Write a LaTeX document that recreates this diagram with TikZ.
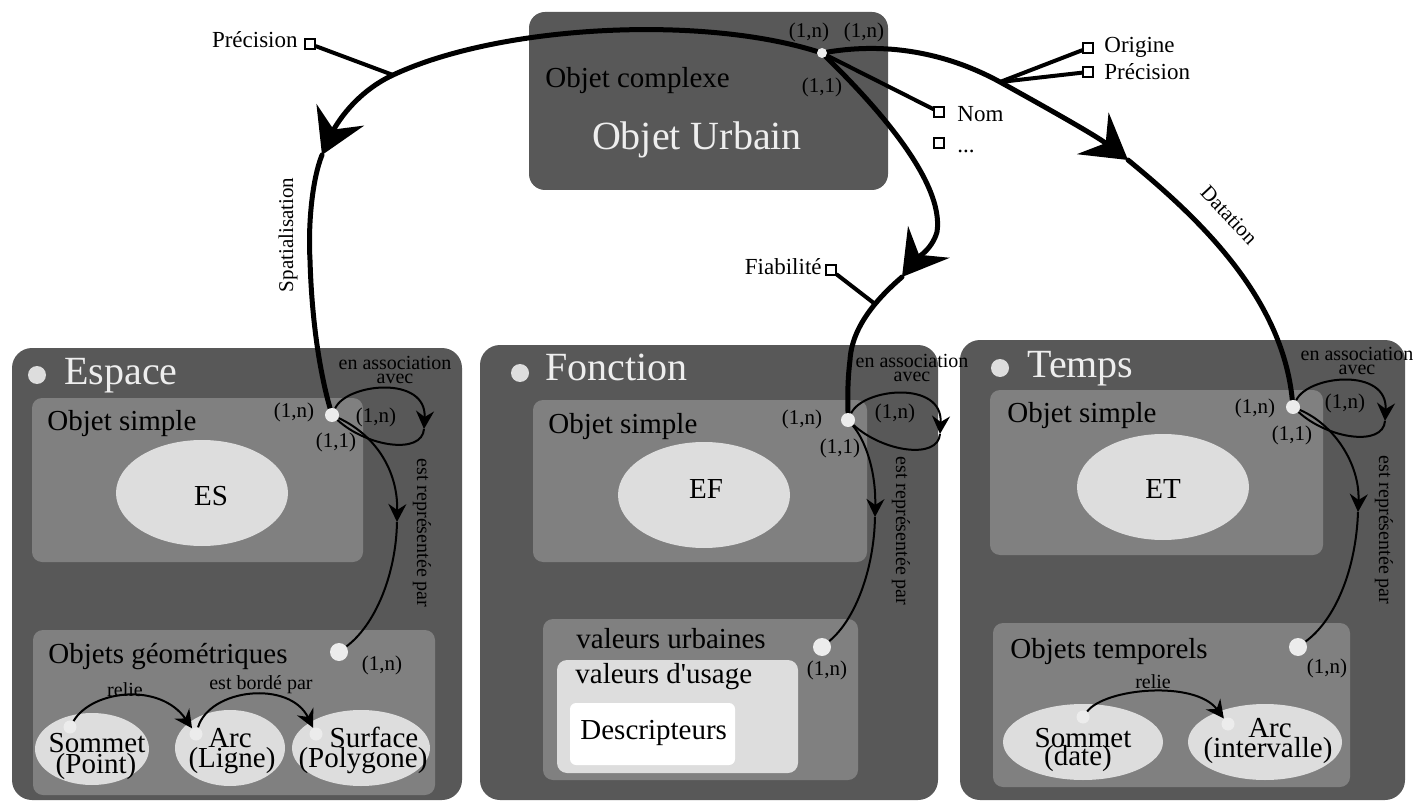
\documentclass[tikz,border=0pt]{standalone}
\usepackage{fontspec}
\setmainfont{Liberation Serif}
\usetikzlibrary{arrows.meta,shapes.geometric,calc}
\pgfdeclarelayer{front}
\pgfsetlayers{main,front}

\definecolor{panelgray}{RGB}{88,88,88}
\definecolor{boxgray}{RGB}{128,128,128}
\definecolor{pale}{RGB}{221,221,221}
\definecolor{titlewhite}{RGB}{238,238,238}
\definecolor{dotwhite}{RGB}{236,236,236}

\newcommand\ftitle{\fontsize{20}{22}\selectfont}
\newcommand\flabel{\fontsize{14.5}{17}\selectfont}
\newcommand\fattr{\fontsize{11.5}{13}\selectfont}
\newcommand\fcard{\fontsize{10.5}{12}\selectfont}
\newcommand\frole{\fontsize{10}{7}\selectfont}

\begin{document}
\begin{tikzpicture}[x=0.5pt,y=-0.5pt,
  panel/.style={rectangle,rounded corners=10pt,fill=panelgray,inner sep=0pt},
  inbox/.style={rectangle,rounded corners=5pt,fill=boxgray,inner sep=0pt},
  entity/.style={ellipse,fill=pale,inner sep=0pt},
  lbl/.style={inner sep=0pt,font=\flabel},
  ttl/.style={inner sep=0pt,font=\ftitle,text=titlewhite},
  card/.style={inner sep=0pt,font=\fcard},
  attrtxt/.style={inner sep=0pt,font=\fattr},
  role/.style={inner sep=0pt,font=\frole,align=center},
  bullet/.style={circle,fill=pale,minimum size=9pt,inner sep=0pt},
  cdot/.style={circle,fill=dotwhite,minimum size=7pt,inner sep=0pt},
  attrbox/.style={rectangle,draw=black,line width=1pt,fill=white,minimum size=5pt,inner sep=0pt},
  bigline/.style={line width=2.5pt,line cap=round},
  bigtip/.style={-{Stealth[length=22pt,width=26pt,inset=8pt]}},
  attrline/.style={line width=2pt,line cap=round},
  relline/.style={line width=1pt},
  reltip/.style={-{Stealth[length=9pt,width=9pt,inset=3pt]}},
]
\fill[white] (0,0) rectangle (1419,802);
\useasboundingbox (0,0) rectangle (1419,802);

% ---------- complex object ----------
\node[panel,rounded corners=8pt,minimum width=179.5pt,minimum height=89pt] (urbain) at (708.5,101) {};
\node[lbl,anchor=base west] (complexe) at (545,88) {Objet complexe};
\node[ttl,anchor=base] (urbname) at (697,150) {Objet Urbain};

% ---------- the three facets ----------
\node[panel,minimum width=225pt,minimum height=226pt] (espace) at (237,574) {};
\node[panel,minimum width=229pt,minimum height=227.5pt] (fonction) at (709,572.5) {};
\node[panel,minimum width=222.5pt,minimum height=230pt] (temps) at (1182.5,570) {};

\node[bullet] (eball) at (37,375) {};
\node[ttl,anchor=base west] (esptitle) at (64,385) {Espace};
\node[bullet] (fball) at (520,373) {};
\node[ttl,anchor=base west] (fontitle) at (545,380) {Fonction};
\node[bullet] (tball) at (1000,368) {};
\node[ttl,anchor=base west] (temtitle) at (1027,377) {Temps};

% simple objects
\node[inbox,minimum width=165.5pt,minimum height=82pt] (esimple) at (197.5,480) {};
\node[inbox,minimum width=167pt,minimum height=81pt] (fsimple) at (700,481) {};
\node[inbox,minimum width=166.5pt,minimum height=82.5pt] (tsimple) at (1156.5,472.5) {};
\node[lbl,anchor=base west] (esimpletxt) at (47,430) {Objet simple};
\node[lbl,anchor=base west] (fsimpletxt) at (548,433) {Objet simple};
\node[lbl,anchor=base west] (tsimpletxt) at (1007,422) {Objet simple};

\node[entity,minimum width=86pt,minimum height=53pt] (es) at (202,493) {};
\node[entity,minimum width=86pt,minimum height=53pt] (ef) at (704,495) {};
\node[entity,minimum width=86pt,minimum height=53pt] (et) at (1163,487) {};
\node[lbl,anchor=base] (estxt) at (211,505) {ES};
\node[lbl,anchor=base] (eftxt) at (706,498) {EF};
\node[lbl,anchor=base] (ettxt) at (1163,498) {ET};

% geometric objects
\node[inbox,minimum width=201pt,minimum height=82.5pt] (egeo) at (234,712.5) {};
\node[lbl,anchor=base west] (egeotxt) at (48,663) {Objets géométriques};
\node[entity,minimum width=57pt,minimum height=36pt] (sommet) at (92,749) {};
\node[entity,minimum width=55pt,minimum height=38pt] (arc) at (230,748) {};
\node[entity,minimum width=69pt,minimum height=38pt] (surface) at (361,748) {};
\node[lbl,anchor=base] (sommet1) at (97,752) {Sommet};
\node[lbl,anchor=base] (sommet2) at (96,773) {(Point)};
\node[lbl,anchor=base] (arc1) at (230,747) {Arc};
\node[lbl,anchor=base] (arc2) at (232,767) {(Ligne)};
\node[lbl,anchor=base] (surface1) at (374,747) {Surface};
\node[lbl,anchor=base] (surface2) at (363,767) {(Polygone)};

% urban values
\node[inbox,minimum width=157.5pt,minimum height=80.5pt] (furb) at (700.5,699.5) {};
\node[inbox,fill=pale,minimum width=120.5pt,minimum height=56.5pt] (fusage) at (677.5,716.5) {};
\node[inbox,fill=white,rounded corners=3pt,minimum width=82.5pt,minimum height=31pt] (fdesc) at (652.5,734) {};
\node[lbl,anchor=base west] (furbtxt) at (576,648) {valeurs urbaines};
\node[lbl,anchor=base west] (fusagetxt) at (575,683) {valeurs d\textquotesingle usage};
\node[lbl,anchor=base west] (fdesctxt) at (580,739) {Descripteurs};

% temporal objects
\node[inbox,minimum width=178.5pt,minimum height=82pt] (ttemp) at (1171.5,705) {};
\node[lbl,anchor=base west] (ttemptxt) at (1010,658) {Objets temporels};
\node[entity,minimum width=80pt,minimum height=38pt] (tsommet) at (1083,742) {};
\node[entity,minimum width=77pt,minimum height=38pt] (tarc) at (1265,742) {};
\node[lbl,anchor=base] (tsommet1) at (1083,747) {Sommet};
\node[lbl,anchor=base] (tsommet2) at (1078,765) {(date)};
\node[lbl,anchor=base] (tarc1) at (1270,737) {Arc};
\node[lbl,anchor=base] (tarc2) at (1268,757) {(intervalle)};

% ---------- connection points ----------
\begin{pgfonlayer}{front}
  \node[cdot,minimum size=5pt] (ud) at (822,53) {};
  \node[cdot] (esd) at (332,415) {};
  \node[cdot] (fsd) at (848,420) {};
  \node[cdot] (tsd) at (1293,407) {};
  \node[cdot,minimum size=9pt] (egd) at (339,652) {};
  \node[cdot,minimum size=9pt] (fgd) at (822,647) {};
  \node[cdot,minimum size=9pt] (tgd) at (1298,647) {};
  \node[cdot,minimum size=6.5pt] (sommetd) at (70,727) {};
  \node[cdot,minimum size=6.5pt] (arcd) at (196,734) {};
  \node[cdot,minimum size=6.5pt] (surfd) at (316,734) {};
  \node[cdot,minimum size=6.5pt] (tsommetd) at (1083,717) {};
  \node[cdot,minimum size=6.5pt] (tarcd) at (1228,724) {};
\end{pgfonlayer}

\coordinate (sbp) at (393,75);
\coordinate (stip) at (322,155);
\coordinate (dbp) at (1000,82);
\coordinate (dtip) at (1128,160);
\coordinate (ftip) at (902,277);
\coordinate (fbp) at (875,304);

% ---------- attributes ----------
\node[attrbox] (precs) at (310,44) {};
\node[attrtxt,anchor=base east] (precstxt) at (298,48) {Précision};
\node[attrbox] (origd) at (1088,48) {};
\node[attrtxt,anchor=base west] (origdtxt) at (1104,53) {Origine};
\node[attrbox] (precd) at (1088,72) {};
\node[attrtxt,anchor=base west] (precdtxt) at (1104,80) {Précision};
\node[attrbox] (nom) at (939,112) {};
\node[attrtxt,anchor=base west] (nomtxt) at (957,122) {Nom};
\node[attrbox] (etc) at (939,143) {};
\node[attrtxt,anchor=base west] (etctxt) at (957,153) {...};
\node[attrbox] (fiab) at (831,270) {};
\node[attrtxt,anchor=base east] (fiabtxt) at (822,275) {Fiabilité};

\draw[attrline] (precs) -- (sbp);
\draw[attrline] (origd) -- (dbp);
\draw[attrline] (precd) -- (dbp);
\draw[attrline] (ud) -- (nom);
\draw[attrline] (fiab) -- (fbp);

% ---------- main links ----------
% Spatialisation
\draw[bigline,bigtip] (ud) .. controls (700,15) and (500,25) .. (sbp)
  .. controls (350,95) and (332,133) .. (stip);
\draw[bigline] (stip) .. controls (312,180) and (308,225) .. (310,260)
  .. controls (312,330) and (322,380) .. (esd);
% Datation
\draw[bigline,bigtip] (ud) .. controls (900,40) and (960,60) .. (dbp)
  .. controls (1045,107) and (1095,135) .. (dtip);
\draw[bigline] (dtip) .. controls (1195,215) and (1282,295) .. (tsd);
% function link
\draw[bigline,bigtip] (ud) .. controls (870,100) and (945,180) .. (937,232)
  .. controls (932,250) and (915,260) .. (ftip);
\draw[bigline] (ftip) .. controls (880,296) and (852,325) .. (850,360)
  .. controls (847,385) and (848,400) .. (fsd);

\node[card] (c1) at (809,32) {(1,n)};
\node[card] (c2) at (864,32) {(1,n)};
\node[card] (c3) at (822,87) {(1,1)};
\node[attrtxt,font=\fcard,rotate=90] (spatlbl) at (288,235) {Spatialisation};
\node[attrtxt,font=\fcard,rotate=-47] (datlbl) at (1229,215) {Datation};

% ---------- association loops ----------
\foreach \d in {esd,fsd,tsd}{
  \draw[relline,reltip] (\d) .. controls ($(\d)+(15,-32)$) and ($(\d)+(95,-40)$) .. ($(\d)+(92,14)$);
  \draw[relline] ($(\d)+(92,14)$) .. controls ($(\d)+(90,40)$) and ($(\d)+(35,32)$) .. (\d);
}
\node[role] (eassoc) at (395,370) {en association\\avec};
\node[role] (fassoc) at (912,368) {en association\\avec};
\node[role] (tassoc) at (1357,361) {en association\\avec};

% ---------- representation links ----------
\draw[relline,reltip] (esd) .. controls (375,435) and (398,470) .. (397,522);
\draw[relline] (397,522) .. controls (396,575) and (375,625) .. (egd);
\draw[relline,reltip] (fsd) .. controls (865,440) and (876,470) .. (875,517);
\draw[relline] (875,517) .. controls (874,570) and (855,620) .. (fgd);
\draw[relline,reltip] (tsd) .. controls (1335,425) and (1360,465) .. (1358,512);
\draw[relline] (1358,512) .. controls (1356,570) and (1335,620) .. (tgd);

\node[card,font=\frole,rotate=-90] (erep) at (422,533) {est représentée par};
\node[card,font=\frole,rotate=-90] (frep) at (901,531) {est représentée par};
\node[card,font=\frole,rotate=-90] (trep) at (1384,530) {est représentée par};

\node[card] (e1) at (294,412) {(1,n)};
\node[card] (e2) at (376,417) {(1,n)};
\node[card] (e3) at (336,442) {(1,1)};
\node[card] (f1) at (802,419) {(1,n)};
\node[card] (f2) at (895,413) {(1,n)};
\node[card] (f3) at (840,448) {(1,1)};
\node[card] (t1) at (1255,408) {(1,n)};
\node[card] (t2) at (1345,403) {(1,n)};
\node[card] (t3) at (1292,435) {(1,1)};
\node[card] (e4) at (382,665) {(1,n)};
\node[card] (f4) at (827,670) {(1,n)};
\node[card] (t4) at (1327,668) {(1,n)};

% ---------- relations between primitives ----------
\draw[relline,reltip] (sommetd) .. controls (92,690) and (160,682) .. (arcd);
\draw[relline,reltip] (arcd) .. controls (210,688) and (290,680) .. (surfd);
\draw[relline,reltip] (tsommetd) .. controls (1105,688) and (1195,680) .. (tarcd);
\node[card,font=\frole] (relie1) at (125,690) {relie};
\node[card,font=\frole] (borde) at (261,685) {est bordé par};
\node[card,font=\frole] (relie2) at (1153,682) {relie};

\end{tikzpicture}
\end{document}
